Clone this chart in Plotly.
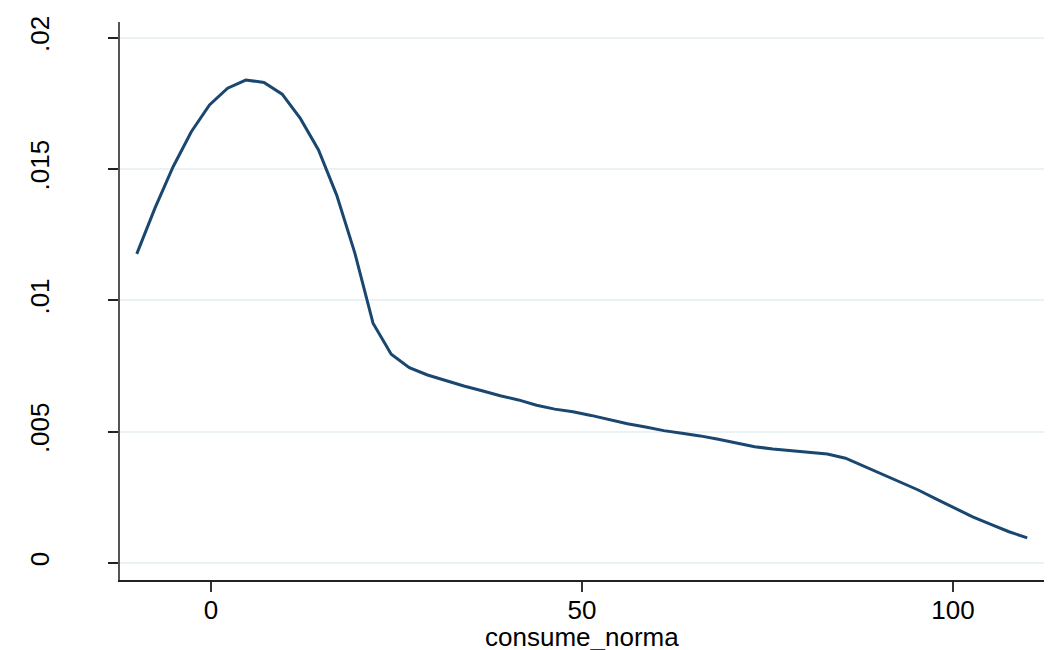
import plotly.graph_objects as go

# Kernel density estimate of consume_norma (50 evaluation points)
x_vals = [-10.0, -7.55, -5.10, -2.65, -0.20, 2.24, 4.69, 7.14, 9.59, 12.04,
          14.49, 16.94, 19.39, 21.84, 24.29, 26.73, 29.18, 31.63, 34.08, 36.53,
          38.98, 41.43, 43.88, 46.33, 48.78, 51.22, 53.67, 56.12, 58.57, 61.02,
          63.47, 65.92, 68.37, 70.82, 73.27, 75.71, 78.16, 80.61, 83.06, 85.51,
          87.96, 90.41, 92.86, 95.31, 97.76, 100.20, 102.65, 105.10, 107.55, 110.0]
density = [0.01177, 0.01351, 0.01509, 0.01642, 0.01744, 0.01808, 0.01839, 0.01830, 0.01785, 0.01693,
           0.01573, 0.01401, 0.01180, 0.00913, 0.00795, 0.00744, 0.00716, 0.00694, 0.00674, 0.00656,
           0.00637, 0.00621, 0.00601, 0.00586, 0.00576, 0.00562, 0.00547, 0.00530, 0.00518, 0.00504,
           0.00494, 0.00484, 0.00471, 0.00457, 0.00443, 0.00434, 0.00428, 0.00423, 0.00415, 0.00399,
           0.00369, 0.00338, 0.00310, 0.00278, 0.00243, 0.00208, 0.00176, 0.00147, 0.00119, 0.00096]

x_ticks = [0, 50, 100]
x_tick_labels = ["0", "50", "100"]
y_ticks = [0, 0.005, 0.01, 0.015, 0.02]
y_tick_labels = ["0", ".005", ".01", ".015", ".02"]
x_title = "consume_norma"

FONT = "Liberation Sans, Arial, sans-serif"
FS = 26

fig = go.Figure()
fig.add_trace(go.Scatter(
    x=x_vals, y=density, mode="lines",
    line=dict(color="#1a476f", width=3),
    showlegend=False, hoverinfo="skip",
))

# page body has an 8px margin, so the figure starts at (8, 8)
fig.update_layout(
    width=1048, height=642,
    margin=dict(l=112, r=12, t=14, b=70),
    paper_bgcolor="white", plot_bgcolor="white",
    font=dict(family=FONT, size=FS, color="black"),
    xaxis=dict(
        range=[-12.26, 112.26],
        tickvals=x_ticks, ticktext=x_tick_labels,
        showgrid=False, zeroline=False,
        showline=True, linecolor="#222", linewidth=1.5,
        ticks="outside", ticklen=10, tickwidth=1.5, tickcolor="#333",
        tickfont=dict(size=FS),
        ticklabelstandoff=-4,
        automargin=False,
    ),
    yaxis=dict(
        range=[-0.000647, 0.0206],
        tickvals=y_ticks, ticktext=y_tick_labels,
        tickangle=-90,
        showgrid=True, gridcolor="#eaf2f3", gridwidth=2,
        zeroline=False,
        showline=True, linecolor="#555", linewidth=2,
        ticks="outside", ticklen=10, tickwidth=1.5, tickcolor="#222",
        tickfont=dict(size=FS),
        ticklabelstandoff=49,
        automargin=False,
    ),
    annotations=[dict(
        text=x_title, xref="paper", yref="paper",
        x=0.5, y=-0.102, xanchor="center", yanchor="middle",
        showarrow=False, font=dict(size=FS, color="black"),
    )],
)

fig.write_html("out.html")
